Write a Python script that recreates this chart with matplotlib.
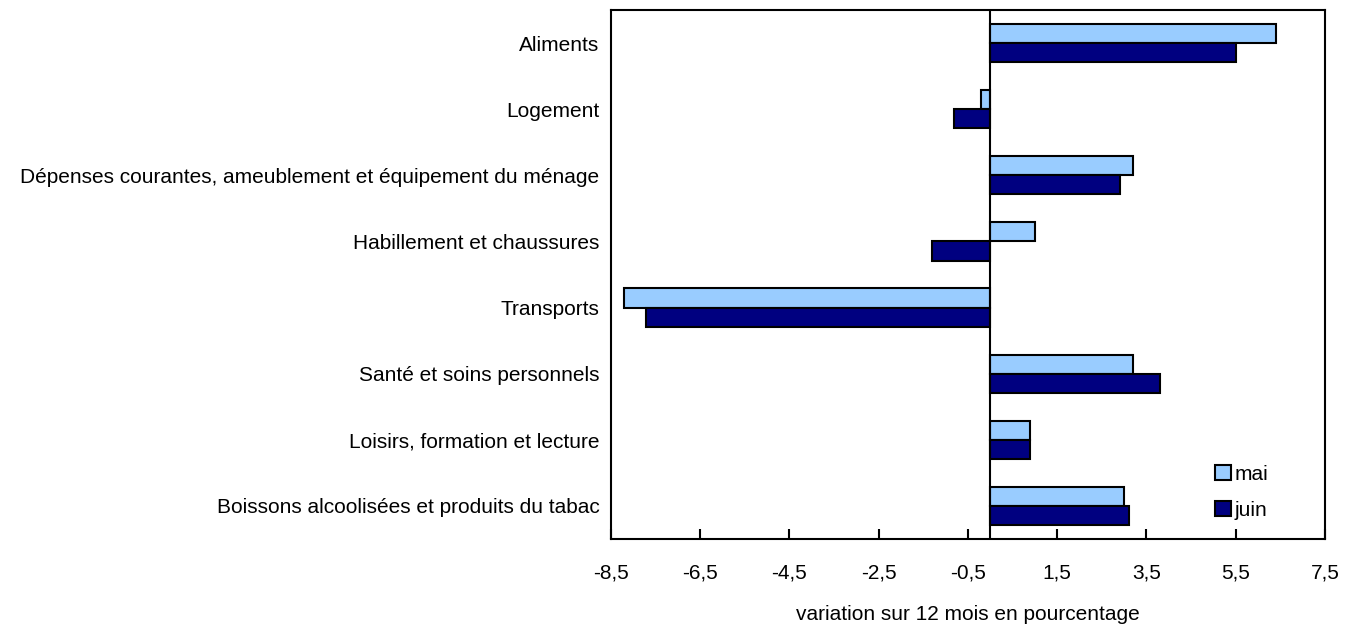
import matplotlib
matplotlib.use('Agg')
import matplotlib.pyplot as plt
import numpy as np

categories = [
    "Aliments",
    "Logement",
    "Dépenses courantes, ameublement et équipement du ménage",
    "Habillement et chaussures",
    "Transports",
    "Santé et soins personnels",
    "Loisirs, formation et lecture",
    "Boissons alcoolisées et produits du tabac",
]
mai = [6.4, -0.2, 3.2, 1.0, -8.2, 3.2, 0.9, 3.0]
juin = [5.5, -0.8, 2.9, -1.3, -7.7, 3.8, 0.9, 3.1]
x_ticks = [-8.5, -6.5, -4.5, -2.5, -0.5, 1.5, 3.5, 5.5, 7.5]

plt.rcParams['font.family'] = ['Liberation Sans', 'DejaVu Sans']

fig = plt.figure(figsize=(13.55, 6.29), dpi=100)
ax = fig.add_axes([0.4507, 0.1431, 0.9779 - 0.4507, 0.9841 - 0.1431])

y = np.arange(len(categories))
h = 0.29
ax.barh(y - h / 2, mai, height=h, color='#99CCFF', edgecolor='black', linewidth=1.5, label='mai', zorder=3)
ax.barh(y + h / 2, juin, height=h, color='#000080', edgecolor='black', linewidth=1.5, label='juin', zorder=3)

ax.axvline(0, color='black', linewidth=1.5, zorder=4)

ax.set_xlim(-8.5, 7.5)
ax.set_ylim(len(categories) - 0.5, -0.5)
ax.set_xticks(x_ticks)
ax.set_xticklabels([f"{t:.1f}".replace('.', ',') for t in x_ticks], fontsize=15)
ax.set_yticks(y)
ax.set_yticklabels(categories, fontsize=15)
ax.tick_params(axis='y', length=0, pad=8)
ax.tick_params(axis='x', direction='in', length=7, width=1.5, pad=18)
for s in ax.spines.values():
    s.set_linewidth(1.5)

ax.set_xlabel("variation sur 12 mois en pourcentage", fontsize=15, labelpad=16)

ax.legend(loc='upper left', bbox_to_anchor=(0.846, 0.14), frameon=False, fontsize=15,
          borderpad=0, borderaxespad=0,
          handlelength=0.75, handleheight=0.75, handletextpad=0.2, labelspacing=0.8)

fig.savefig('out.png', dpi=100)
